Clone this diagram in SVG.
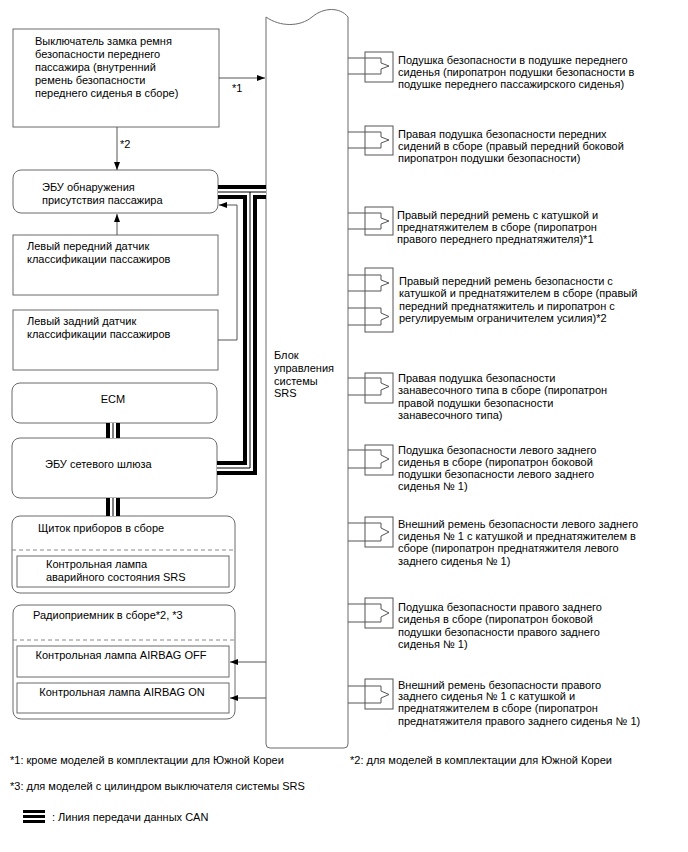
<svg xmlns="http://www.w3.org/2000/svg" width="688" height="852" viewBox="0 0 688 852">
<defs>
<style>
.box{fill:#fff;stroke:#6b6b6b;stroke-width:1}
.t{font-family:"Liberation Sans",Arial,sans-serif;font-size:11px;fill:#000}
.wire{fill:none;stroke:#555;stroke-width:1}
.dash{fill:none;stroke:#888;stroke-width:1;stroke-dasharray:4 3}
.canO{fill:none;stroke:#000;stroke-width:14;stroke-linejoin:miter}
.canW{fill:none;stroke:#fff;stroke-width:6;stroke-linejoin:miter}
.canC{fill:none;stroke:#000;stroke-width:1;stroke-linejoin:miter}
.sq{fill:none;stroke:#555;stroke-width:1}
</style>
<marker id="ah" viewBox="0 0 8 6" refX="8" refY="3" markerWidth="8" markerHeight="6" markerUnits="userSpaceOnUse" orient="auto">
<path d="M0,0 L8,3 L0,6 z" fill="#000"/>
</marker>
</defs>
<rect width="688" height="852" fill="#fff"/>

<g id="srs">
<path class="box" d="M266,17 C280,27 300,27 312,17 C324,7 340,7 348,17 V744 Q348,748 344,748 H270 Q266,748 266,744 Z"/>
<text class="t" x="274" y="359">Блок</text>
<text class="t" x="274" y="372">управления</text>
<text class="t" x="274" y="385">системы</text>
<text class="t" x="274" y="397">SRS</text>
</g>

<g id="buckle-switch">
<rect class="box" x="13" y="29" width="206" height="98"/>
<text class="t" x="35" y="45">Выключатель замка ремня</text>
<text class="t" x="35" y="58">безопасности переднего</text>
<text class="t" x="35" y="71">пассажира (внутренний</text>
<text class="t" x="35" y="84">ремень безопасности</text>
<text class="t" x="35" y="97">переднего сиденья в сборе)</text>
</g>

<g id="occupant-ecu">
<rect class="box" x="13" y="170" width="205" height="43" rx="8"/>
<text class="t" x="42" y="191">ЭБУ обнаружения</text>
<text class="t" x="42" y="204">присутствия пассажира</text>
</g>

<g id="front-sensor">
<rect class="box" x="13" y="235" width="205" height="60"/>
<text class="t" x="27" y="250">Левый передний датчик</text>
<text class="t" x="27" y="263">классификации пассажиров</text>
</g>

<g id="rear-sensor">
<rect class="box" x="13" y="310" width="205" height="60"/>
<text class="t" x="27" y="325">Левый задний датчик</text>
<text class="t" x="27" y="338">классификации пассажиров</text>
</g>

<g id="ecm">
<rect class="box" x="12" y="383" width="205" height="40" rx="8"/>
<text class="t" x="113" y="403" text-anchor="middle">ECM</text>
</g>

<g id="gateway">
<rect class="box" x="12" y="438" width="205" height="60" rx="8"/>
<text class="t" x="45" y="468">ЭБУ сетевого шлюза</text>
</g>

<g id="cluster">
<rect class="box" x="12" y="516" width="223" height="77" rx="8"/>
<text class="t" x="38" y="532">Щиток приборов в сборе</text>
<line class="dash" x1="12" y1="550" x2="235" y2="550"/>
<rect class="box" x="17" y="556" width="212" height="31"/>
<text class="t" x="46" y="568">Контрольная лампа</text>
<text class="t" x="46" y="581">аварийного состояния SRS</text>
</g>

<g id="radio">
<rect class="box" x="13" y="605" width="222" height="114" rx="8"/>
<text class="t" x="33" y="619">Радиоприемник в сборе*2, *3</text>
<line class="dash" x1="13" y1="640" x2="235" y2="640"/>
<rect class="box" x="17" y="646" width="212" height="31"/>
<text class="t" x="121" y="659" text-anchor="middle">Контрольная лампа AIRBAG OFF</text>
<rect class="box" x="17" y="683" width="212" height="30"/>
<text class="t" x="122" y="696" text-anchor="middle">Контрольная лампа AIRBAG ON</text>
</g>

<g id="squib1">
<rect class="sq" x="365" y="52" width="28" height="30"/>
<text class="t" x="398" y="64">Подушка безопасности в подушке переднего</text>
<text class="t" x="398" y="76">сиденья (пиропатрон подушки безопасности в</text>
<text class="t" x="398" y="88">подушке переднего пассажирского сиденья)</text>
</g>
<g id="squib2">
<rect class="sq" x="365" y="126" width="28" height="29"/>
<text class="t" x="398" y="138">Правая подушка безопасности передних</text>
<text class="t" x="398" y="150">сидений в сборе (правый передний боковой</text>
<text class="t" x="398" y="162">пиропатрон подушки безопасности)</text>
</g>
<g id="squib3">
<rect class="sq" x="365" y="207" width="28" height="28"/>
<text class="t" x="397" y="219">Правый передний ремень с катушкой и</text>
<text class="t" x="397" y="231">преднатяжителем в сборе (пиропатрон</text>
<text class="t" x="397" y="243">правого переднего преднатяжителя)*1</text>
</g>
<g id="squib4">
<rect class="sq" x="365" y="268" width="28" height="64"/>
<text class="t" x="399" y="285">Правый передний ремень безопасности с</text>
<text class="t" x="399" y="297">катушкой и преднатяжителем в сборе (правый</text>
<text class="t" x="399" y="310">передний преднатяжитель и пиропатрон с</text>
<text class="t" x="399" y="322">регулируемым ограничителем усилия)*2</text>
</g>
<g id="squib5">
<rect class="sq" x="365" y="373" width="28" height="30"/>
<text class="t" x="398" y="382">Правая подушка безопасности</text>
<text class="t" x="398" y="394">занавесочного типа в сборе (пиропатрон</text>
<text class="t" x="398" y="407">правой подушки безопасности</text>
<text class="t" x="398" y="419">занавесочного типа)</text>
</g>
<g id="squib6">
<rect class="sq" x="365" y="445" width="28" height="30"/>
<text class="t" x="398" y="454">Подушка безопасности левого заднего</text>
<text class="t" x="398" y="466">сиденья в сборе (пиропатрон боковой</text>
<text class="t" x="398" y="478">подушки безопасности левого заднего</text>
<text class="t" x="398" y="490">сиденья № 1)</text>
</g>
<g id="squib7">
<rect class="sq" x="365" y="517" width="28" height="30"/>
<text class="t" x="398" y="528">Внешний ремень безопасности левого заднего</text>
<text class="t" x="398" y="540">сиденья № 1 с катушкой и преднатяжителем в</text>
<text class="t" x="398" y="552">сборе (пиропатрон преднатяжителя левого</text>
<text class="t" x="398" y="565">заднего сиденья № 1)</text>
</g>
<g id="squib8">
<rect class="sq" x="365" y="598" width="28" height="30"/>
<text class="t" x="398" y="611">Подушка безопасности правого заднего</text>
<text class="t" x="398" y="623">сиденья в сборе (пиропатрон боковой</text>
<text class="t" x="398" y="636">подушки безопасности правого заднего</text>
<text class="t" x="398" y="648">сиденья № 1)</text>
</g>
<g id="squib9">
<rect class="sq" x="365" y="679" width="28" height="30"/>
<text class="t" x="398" y="689">Внешний ремень безопасности правого</text>
<text class="t" x="398" y="700">заднего сиденья № 1 с катушкой и</text>
<text class="t" x="398" y="712">преднатяжителем в сборе (пиропатрон</text>
<text class="t" x="398" y="725">преднатяжителя правого заднего сиденья № 1)</text>
</g>

<g id="connectors">
<path class="wire" d="M219,78 H265" marker-end="url(#ah)"/>
<text class="t" x="232" y="92">*1</text>
<path class="wire" d="M117,127 V170" marker-end="url(#ah)"/>
<text class="t" x="120" y="148">*2</text>
<path class="wire" d="M117,235 V214" marker-end="url(#ah)"/>
<path class="wire" d="M218,340 H237 V205 H219" marker-end="url(#ah)"/>
<path class="wire" d="M266,662 H230" marker-end="url(#ah)"/>
<path class="wire" d="M266,698 H230" marker-end="url(#ah)"/>

<path class="canO" d="M218,192 H266 M250,192 V468 H217 M113,423 V438 M113,498 V516"/>
<path class="canW" d="M218,192 H266 M250,192 V468 H217 M113,423 V438 M113,498 V516"/>
<path class="canC" d="M218,192 H266 M250,192 V468 H217 M113,423 V438 M113,498 V516"/>

<path class="wire" d="M348,58 H381 V63 L389,66 L381,69 V74 H348"/>
<path class="wire" d="M348,132 H381 V137 L389,140 L381,143 V148 H348"/>
<path class="wire" d="M348,213 H381 V218 L389,221 L381,224 V229 H348"/>
<path class="wire" d="M348,275 H381 V280 L389,283 L381,286 V291 H348"/>
<path class="wire" d="M348,308 H381 V313 L389,316.5 L381,320 V325 H348"/>
<path class="wire" d="M348,378 H381 V383 L389,386.5 L381,390 V395 H348"/>
<path class="wire" d="M348,450 H381 V455 L389,459 L381,463 V468 H348"/>
<path class="wire" d="M348,523 H381 V528 L389,532 L381,536 V541 H348"/>
<path class="wire" d="M348,604 H381 V609 L389,613 L381,617 V622 H348"/>
<path class="wire" d="M348,686 H381 V691 L389,694.5 L381,698 V703 H348"/>
</g>

<g id="footer">
<text class="t" x="10" y="764">*1: кроме моделей в комплектации для Южной Кореи</text>
<text class="t" x="350" y="764">*2: для моделей в комплектации для Южной Кореи</text>
<text class="t" x="10" y="790">*3: для моделей с цилиндром выключателя системы SRS</text>
<rect x="23" y="810" width="22" height="3" fill="#000"/>
<rect x="23" y="815" width="22" height="3" fill="#000"/>
<rect x="23" y="820" width="22" height="3" fill="#000"/>
<text class="t" x="52" y="821">: Линия передачи данных CAN</text>
</g>
</svg>
